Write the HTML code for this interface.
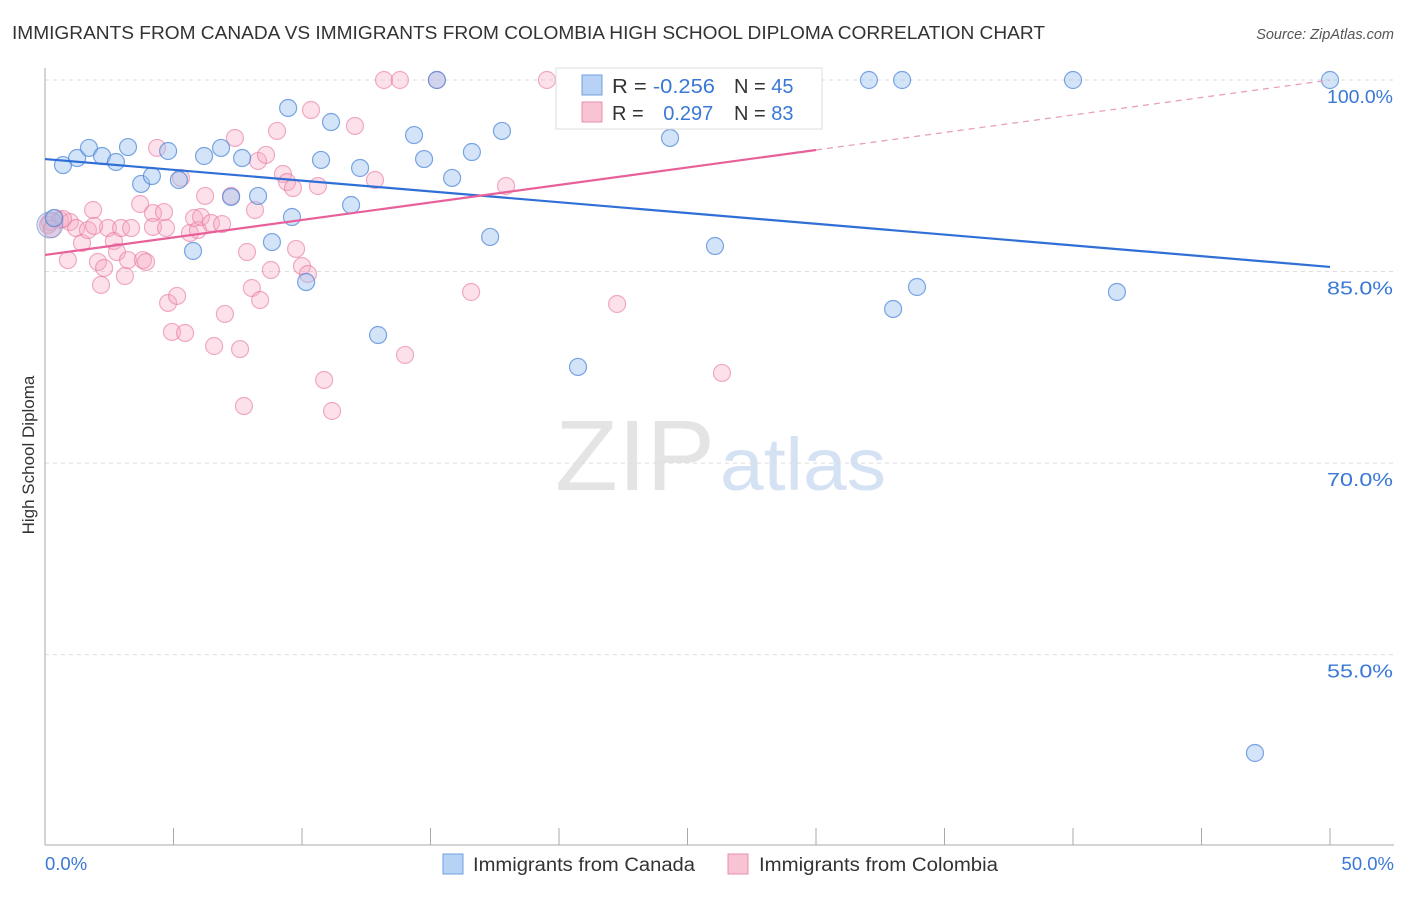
<!DOCTYPE html>
<html><head><meta charset="utf-8"><style>
body{margin:0;background:#fff;font-family:"Liberation Sans",sans-serif;}
svg text{font-family:"Liberation Sans",sans-serif;}
</style></head><body>
<svg id="chart" width="1406" height="892">
<text x="12" y="39" font-size="18" fill="#333" textLength="1033" lengthAdjust="spacingAndGlyphs">IMMIGRANTS FROM CANADA VS IMMIGRANTS FROM COLOMBIA HIGH SCHOOL DIPLOMA CORRELATION CHART</text>
<text x="1394" y="39" font-size="14.5" fill="#555" font-style="italic" text-anchor="end">Source: ZipAtlas.com</text>
<text x="555" y="490" font-size="100" fill="#e4e4e4" font-family="Liberation Serif" textLength="160" lengthAdjust="spacingAndGlyphs">ZIP</text>
<text x="720" y="490" font-size="74" fill="#d4e2f4" textLength="166" lengthAdjust="spacingAndGlyphs">atlas</text>
<text transform="translate(34,455) rotate(-90)" font-size="17" fill="#333" text-anchor="middle">High School Diploma</text>
<g id="grid"></g><g id="axes"></g><g id="marks"></g>
<g>
<rect x="556" y="68" width="266" height="61" fill="#fff" stroke="#ddd"/>
<rect x="582" y="75" width="20" height="20" fill="#b7d2f5" stroke="#6f9fe0"/>
<rect x="582" y="102" width="20" height="20" fill="#f8c3d3" stroke="#ea8fae"/>
<text x="612" y="93" font-size="20" fill="#333" textLength="103" lengthAdjust="spacingAndGlyphs">R = <tspan fill="#3a78d6">-0.256</tspan></text>
<text x="734" y="93" font-size="20" fill="#333">N = <tspan fill="#3a78d6">45</tspan></text>
<text x="612" y="120" font-size="20" fill="#333">R = <tspan fill="#3a78d6" dx="14">0.297</tspan></text>
<text x="734" y="120" font-size="20" fill="#333">N = <tspan fill="#3a78d6">83</tspan></text>
</g>
<g>
<rect x="443" y="854" width="20" height="20" fill="#b7d2f5" stroke="#6f9fe0"/>
<text x="473" y="871" font-size="19" fill="#333" textLength="222" lengthAdjust="spacingAndGlyphs">Immigrants from Canada</text>
<rect x="728" y="854" width="20" height="20" fill="#f8c3d3" stroke="#ea8fae"/>
<text x="759" y="871" font-size="19" fill="#333" textLength="239" lengthAdjust="spacingAndGlyphs">Immigrants from Colombia</text>
</g>
</svg>
<script>
const yTicks=[100,85,70,55];
const xTickLabels=["0.0%","50.0%"];
const canadaX=[0.70,1.25,1.71,2.22,2.76,3.23,3.74,4.16,4.79,5.21,5.76,6.19,6.85,7.24,7.67,8.29,8.83,9.46,9.61,10.16,10.74,11.13,11.91,12.26,12.96,14.36,14.75,15.25,15.84,16.61,17.32,17.78,20.74,24.32,26.07,32.06,33.0,33.35,33.93,40.0,41.71,47.08,50,0.35];
const canadaY=[93.34,93.89,94.68,94.05,93.58,94.75,91.86,92.48,94.44,92.17,86.61,94.05,94.68,90.84,93.89,90.92,87.31,97.81,89.27,84.18,93.74,96.71,90.21,93.11,80.03,95.69,93.81,100,92.33,94.36,87.71,96.01,77.53,95.46,87.0,100,82.07,100,83.79,100,83.40,47.30,100,89.19];
const colX=[0.19,0.39,0.58,0.89,0.97,1.21,1.44,1.67,1.87,2.06,2.18,2.30,2.45,2.68,2.80,2.96,3.11,3.23,3.35,3.70,3.81,3.93,4.20,4.20,4.36,4.63,4.71,4.79,4.94,5.14,5.29,5.45,5.64,5.80,5.95,6.07,6.23,6.46,6.58,7.00,7.24,7.39,7.59,7.74,7.86,8.05,8.17,8.29,8.37,8.60,8.79,9.03,9.26,9.42,9.65,9.77,10.0,10.23,10.35,10.62,10.86,11.17,12.06,12.84,13.19,13.81,14.01,15.25,16.58,17.94,19.53,20.74,22.26,26.34,27.82,29.77,0.12,0.27,0.70,1.91,6.89];
const colY=[88.88,89.19,89.04,85.90,88.88,88.41,87.24,88.25,89.82,85.75,83.95,85.28,88.41,87.39,86.53,88.41,84.65,85.90,88.41,90.29,85.90,85.75,89.58,88.49,94.68,89.66,88.41,82.54,80.27,83.09,92.33,80.19,88.02,89.19,88.25,89.27,90.92,88.80,79.17,81.68,90.92,95.46,78.93,74.47,86.53,83.71,89.82,93.66,82.77,94.13,85.12,96.01,92.64,92.01,91.54,86.77,85.43,84.81,97.65,91.70,76.51,74.08,96.40,92.17,100,100,78.47,100,83.40,91.70,100,100,82.46,77.06,100,97.81,88.65,88.33,89.12,88.57,88.72];
const canadaTrend=[93.81,85.36];
const colTrend=[86.30,100];
const colSolidEnd=30;

const NS="http://www.w3.org/2000/svg";
const X=v=>45+v*25.7, Y=v=>80+(100-v)*12.77;
function mk(t,a,p){const e=document.createElementNS(NS,t);for(const k in a)e.setAttribute(k,a[k]);p.appendChild(e);return e;}
const grid=document.getElementById('grid'),axes=document.getElementById('axes'),marks=document.getElementById('marks');
yTicks.forEach(v=>{
 const l=mk('line',{x1:45,x2:1394,y1:Y(v),y2:Y(v),stroke:'#ddd','stroke-dasharray':'4,4'},grid);
 
 
 const t=mk('text',{x:1393,y:Y(v)+23,'font-size':18,fill:'#3a78d6','text-anchor':'end',textLength:66,lengthAdjust:'spacingAndGlyphs'},axes);
 t.textContent=v.toFixed(1)+'%';
 
 
});
const ax=mk('line',{x1:45,x2:45,y1:68,y2:845,stroke:'#aaa'},axes);


const bx=mk('line',{x1:45,x2:1394,y1:845,y2:845,stroke:'#aaa'},axes);


for(let i=0;i<=10;i++){
 const tk=mk('line',{x1:X(i*5),x2:X(i*5),y1:828,y2:845,stroke:'#aaa'},axes);
 
 
}
const tl0=mk('text',{x:45,y:870,'font-size':18.5,fill:'#3a78d6'},axes);tl0.textContent=xTickLabels[0];


const tl1=mk('text',{x:1394,y:870,'font-size':18.5,fill:'#3a78d6','text-anchor':'end'},axes);tl1.textContent=xTickLabels[1];



colX.forEach((x,i)=>{
 const c=mk('circle',{cx:X(x),cy:Y(colY[i]),r:8.5,fill:'rgba(246,170,195,0.35)',stroke:'rgba(232,120,160,0.6)','stroke-width':1.2},marks);
 
 
});
const big=mk('circle',{cx:X(0.19),cy:Y(88.65),r:13,fill:'rgba(170,180,220,0.4)',stroke:'rgba(100,140,210,0.6)'},marks);


canadaX.forEach((x,i)=>{
 const c=mk('circle',{cx:X(x),cy:Y(canadaY[i]),r:8.5,fill:'rgba(160,195,240,0.45)',stroke:'rgba(70,130,215,0.7)','stroke-width':1.2},marks);
 
 
});
const tb=mk('line',{x1:X(0),y1:Y(canadaTrend[0]),x2:X(50),y2:Y(canadaTrend[1]),stroke:'#2f6fd6','stroke-width':2.2},marks);


const pm=y=>colTrend[0]+(colTrend[1]-colTrend[0])*y/50;
const tp=mk('line',{x1:X(0),y1:Y(colTrend[0]),x2:X(colSolidEnd),y2:Y(pm(colSolidEnd)),stroke:'#e8609a','stroke-width':2.2},marks);


const td=mk('line',{x1:X(colSolidEnd),y1:Y(pm(colSolidEnd)),x2:X(50),y2:Y(colTrend[1]),stroke:'#e8a0bc','stroke-width':1.3,'stroke-dasharray':'6,5'},marks);


</script>
</body></html>
